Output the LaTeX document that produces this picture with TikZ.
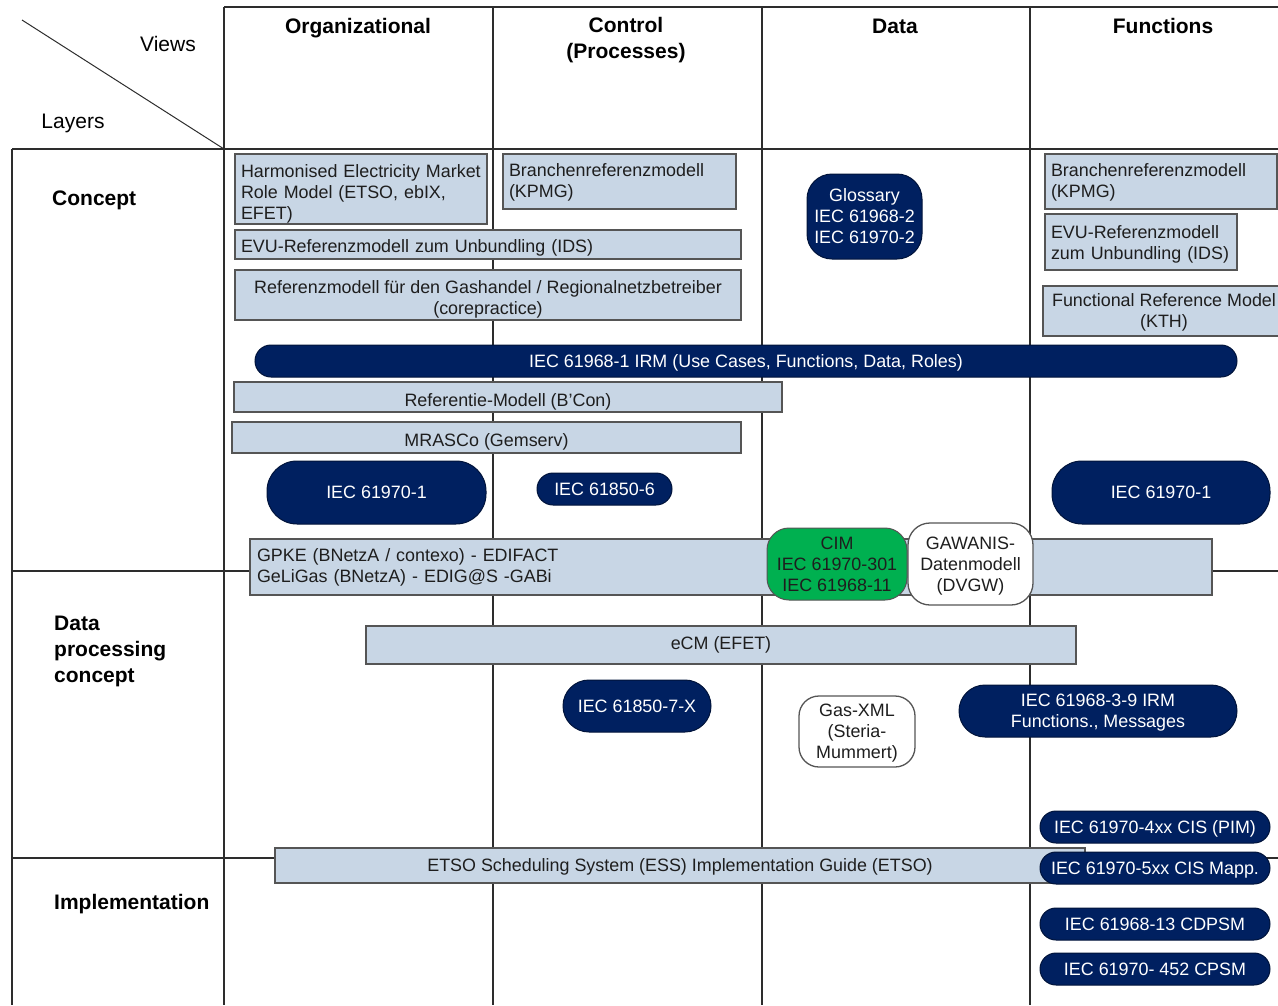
\documentclass[tikz,border=0pt]{standalone}
\usepackage{fontspec}
\setmainfont{Liberation Sans}
\definecolor{boxfill}{RGB}{200,214,229}
\definecolor{boxedge}{RGB}{85,85,85}
\definecolor{gridline}{RGB}{45,45,45}
\definecolor{boxtext}{RGB}{30,30,30}
\definecolor{iecblue}{RGB}{0,32,96}
\definecolor{cimgreen}{RGB}{0,176,80}

\begin{document}
\begin{tikzpicture}[x=1pt,y=-1pt,
  grid/.style={draw=gridline,line width=1.4pt},
  boxbase/.style={draw=boxedge,fill=boxfill,line width=1.3pt,inner sep=0pt,text=boxtext,font=\fontsize{17.9}{21}\selectfont},
  refbox/.style={boxbase,align=center,text depth=0pt},
  leftbox/.style={boxbase,align=left,inner xsep=6pt},
  whitebox/.style={refbox,fill=white},
  iec/.style={draw=iecblue!60!black,fill=iecblue,line width=1pt,inner sep=0pt,text depth=0pt,text=white,font=\fontsize{17.9}{21}\selectfont,align=center},
  view/.style={font=\bfseries\fontsize{21}{26}\selectfont,align=center,inner sep=0pt,text depth=0pt},
  layer/.style={view,anchor=west,align=left}]
\useasboundingbox (0,0) rectangle (1278,1005);

% table
\draw[grid] (224,7) -- (1278,7);
\draw[grid] (12,149) -- (1278,149);
\draw[grid] (12,571) -- (1278,571);
\draw[grid] (12,858) -- (1278,858);
\draw[grid] (12,149) -- (12,1005);
\foreach \x in {224,493,762,1030}
  \draw[grid] (\x,7) -- (\x,1005);
\draw[grid,line width=1pt] (22,20) -- (224,149);

\node[font=\fontsize{21}{26}\selectfont,text depth=0pt] (views) at (168,44) {Views};
\node[font=\fontsize{21}{26}\selectfont,text depth=0pt] (layers) at (73,121) {Layers};
\node[view] (org) at (358,26) {Organizational};
\node[view] (ctl) at (626,38) {Control\\(Processes)};
\node[view] (dat) at (895,26) {Data};
\node[view] (fun) at (1163,26) {Functions};
\node[layer] (concept) at (52,198) {Concept};
\node[layer] (dpc) at (54,649) {Data\\processing\\concept};
\node[layer] (impl) at (54,902) {Implementation};

% Concept
\node[leftbox,text width=240pt,text height=22pt,minimum height=70pt] (harm) at (361,189) {Harmonised Electricity Market\\Role Model (ETSO, ebIX,\\EFET)};
\node[leftbox,text width=221pt,text height=15pt,minimum height=55pt] (kpmgctl) at (619.5,181.5) {Branchenreferenzmodell\\(KPMG)};
\node[leftbox,text width=494pt,text height=19pt,minimum height=29pt] (evu) at (488,244.5) {EVU-Referenzmodell zum Unbundling (IDS)};
\node[refbox,text height=39pt,minimum width=506pt,minimum height=50pt] (gas) at (488,295) {Referenzmodell für den Gashandel / Regionalnetzbetreiber\\(corepractice)};
\node[iec,rounded corners=25pt,minimum width=115pt,minimum height=85pt] (gloss) at (864.5,216.5) {Glossary\\IEC 61968-2\\IEC 61970-2};
\node[leftbox,text width=220pt,text height=15pt,minimum height=55pt] (kpmgfun) at (1161,181.5) {Branchenreferenzmodell\\(KPMG)};
\node[leftbox,text width=180pt,text height=17pt,minimum height=56pt] (evufun) at (1141,242) {EVU-Referenzmodell\\zum Unbundling (IDS)};
\node[refbox,minimum width=242pt,minimum height=50pt] (kth) at (1164,311) {Functional Reference Model\\(KTH)};
\node[iec,rounded corners=16pt,minimum width=982pt,minimum height=32pt] (irm) at (746,361) {IEC 61968-1 IRM (Use Cases, Functions, Data, Roles)};
\node[refbox,text height=18pt,minimum width=548pt,minimum height=30pt] (bcon) at (508,397) {Referentie-Modell (B’Con)};
\node[refbox,text height=18pt,minimum width=509pt,minimum height=31pt] (mrasco) at (486.5,437.5) {MRASCo (Gemserv)};
\node[iec,rounded corners=30pt,minimum width=219pt,minimum height=63pt] (cisorg) at (376.5,492.5) {IEC 61970-1};
\node[iec,rounded corners=16pt,minimum width=135pt,minimum height=32pt] (sclctl) at (604.5,489) {IEC 61850-6};
\node[iec,rounded corners=30pt,minimum width=218pt,minimum height=63pt] (cisfun) at (1161,492.5) {IEC 61970-1};

% across concept / data processing
\node[leftbox,inner xsep=7pt,text width=948pt,minimum height=56pt] (gpke) at (731,567) {GPKE (BNetzA / contexo) - EDIFACT\\GeLiGas (BNetzA) - EDIG@S -GABi};
\node[iec,draw=boxedge,fill=cimgreen,text=boxtext,rounded corners=22pt,minimum width=140pt,minimum height=72pt] (cim) at (837,564) {CIM\\IEC 61970-301\\IEC 61968-11};
\node[whitebox,rounded corners=22pt,minimum width=125pt,minimum height=82pt] (gawanis) at (970.5,564) {GAWANIS-\\Datenmodell\\(DVGW)};

% Data processing concept
\node[refbox,text depth=4pt,minimum width=710pt,minimum height=38pt] (ecm) at (721,645) {eCM (EFET)};
\node[iec,rounded corners=26pt,minimum width=148pt,minimum height=52pt] (mms) at (637,706) {IEC 61850-7-X};
\node[whitebox,rounded corners=20pt,minimum width=116pt,minimum height=71pt] (gasxml) at (857,731.5) {Gas-XML\\(Steria-\\Mummert)};
\node[iec,rounded corners=26pt,minimum width=278pt,minimum height=52pt] (irmfun) at (1098,711) {IEC 61968-3-9 IRM\\Functions., Messages};

% Implementation
\node[refbox,minimum width=810pt,minimum height=35pt] (etso) at (680,865.5) {ETSO Scheduling System (ESS) Implementation Guide (ETSO)};
\node[iec,rounded corners=16pt,minimum width=230pt,minimum height=32pt] (pim) at (1155,827) {IEC 61970-4xx CIS (PIM)};
\node[iec,rounded corners=16pt,minimum width=230pt,minimum height=32pt] (mapp) at (1155,868) {IEC 61970-5xx CIS Mapp.};
\node[iec,rounded corners=16pt,minimum width=230pt,minimum height=32pt] (cdpsm) at (1155,924) {IEC 61968-13 CDPSM};
\node[iec,rounded corners=16pt,minimum width=230pt,minimum height=32pt] (cpsm) at (1155,969) {IEC 61970- 452 CPSM};
\end{tikzpicture}
\end{document}
